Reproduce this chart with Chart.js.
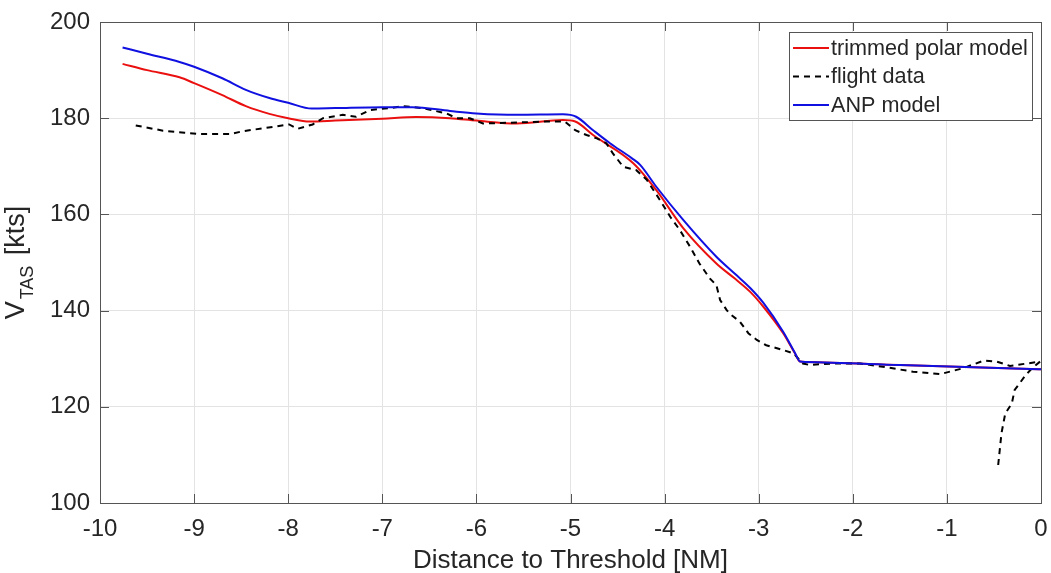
<!DOCTYPE html>
<html>
<head>
<meta charset="utf-8">
<title>V_TAS vs distance to threshold</title>
<script src="https://cdn.jsdelivr.net/npm/chart.js@4/dist/chart.umd.min.js"></script>
<style>
  html, body { margin: 0; padding: 0; background: #fff; }
  #wrap { position: relative; width: 1051px; height: 573px; }
</style>
</head>
<body>
<div id="wrap"><canvas id="speedChart"></canvas></div>
<script>
// Values
const xTicks = [-10, -9, -8, -7, -6, -5, -4, -3, -2, -1, 0];
const yTicks = [100, 120, 140, 160, 180, 200];

const seriesNames = ["trimmed polar model", "flight data", "ANP model"];

// trimmed polar model (red)
const polarDist = [-9.76, -9.5, -9.155, -9, -8.7, -8.45, -8.2, -8, -7.77, -7.5, -7, -6.64, -6.28, -6, -5.57, -5.08, -4.95, -4.76, -4.33, -4.09, -3.8, -3.45, -3.25, -3.09, -2.95, -2.74, -2.62, -2.56, -2.5, -1.5, 0];
const polarSpeed = [191.3, 190.0, 188.5, 187.3, 184.8, 182.5, 180.9, 180.0, 179.3, 179.5, 179.9, 180.25, 180.0, 179.5, 178.9, 179.6, 179.3, 176.5, 170.6, 165.1, 157.1, 149.8, 146.6, 143.9, 140.8, 135.3, 131.3, 129.4, 129.3, 128.7, 127.8];

// flight data (black dashed) - recorded order, the last points run back from the threshold
const flightDist = [-9.62, -9.33, -9.1, -8.94, -8.62, -8.48, -8.23, -7.99, -7.9, -7.74, -7.63, -7.42, -7.28, -7.13, -6.92, -6.78, -6.57, -6.32, -6.21, -6.07, -5.93, -5.57, -5.29, -5.06, -4.95, -4.83, -4.72, -4.62, -4.55, -4.44, -4.3, -4.19, -4.05, -3.94, -3.84, -3.73, -3.63, -3.52, -3.45, -3.41, -3.34, -3.31, -3.2, -3.11, -3.02, -2.92, -2.74, -2.63, -2.53, -2.46, -2.21, -1.92, -1.64, -1.36, -1.07, -0.83, -0.61, -0.47, -0.33, -0.15, -0.01, -0.06, -0.12, -0.17, -0.28, -0.31, -0.38, -0.42, -0.455];
const flightSpeed = [178.5, 177.4, 177.0, 176.7, 176.7, 177.3, 178.0, 178.7, 177.8, 178.7, 180.0, 180.7, 180.3, 181.7, 182.1, 182.5, 182.1, 181.0, 180.0, 180.0, 178.9, 179.1, 179.3, 179.3, 177.5, 176.5, 175.8, 174.8, 172.7, 169.9, 169.2, 167.2, 163.0, 159.5, 156.8, 153.3, 149.8, 146.7, 145.3, 142.2, 140.1, 139.4, 137.7, 135.3, 133.9, 132.8, 131.8, 131.1, 129.0, 128.7, 129.0, 129.0, 128.2, 127.3, 126.8, 128.0, 129.6, 129.4, 128.5, 129.0, 129.4, 128.6, 127.5, 126.4, 123.5, 120.7, 118.6, 114.5, 107.9];

// ANP model (blue)
const anpDist = [-9.76, -9.5, -9.155, -9, -8.7, -8.45, -8.2, -8, -7.75, -7.5, -7, -6.68, -6.28, -6, -5.57, -5.08, -4.94, -4.76, -4.58, -4.35, -4.26, -4.09, -3.8, -3.45, -3.25, -3.09, -2.95, -2.74, -2.62, -2.56, -2.5, -1.5, 0];
const anpSpeed = [194.7, 193.4, 191.7, 190.7, 188.3, 185.9, 184.2, 183.2, 182.0, 182.1, 182.3, 182.3, 181.5, 181.0, 180.7, 180.8, 180.3, 177.5, 174.8, 171.7, 170.3, 165.8, 158.8, 151.2, 147.6, 144.7, 141.6, 135.6, 131.4, 129.4, 129.3, 128.7, 127.8];

const FONT = "'Liberation Sans', Arial, Helvetica, sans-serif";
const TEXT = "#262626";

const toPoints = (xs, ys) => xs.map((x, i) => ({ x, y: ys[i] }));

// frame + inward tick marks on all four sides (MATLAB "box on")
const boxPlugin = {
  id: "boxPlugin",
  afterDatasetsDraw(chart) {
    const { ctx, chartArea: a, scales } = chart;
    const len = 9;
    ctx.save();
    ctx.strokeStyle = "#555";
    ctx.lineWidth = 1;
    ctx.beginPath();
    xTicks.forEach(v => {
      const px = Math.round(scales.x.getPixelForValue(v)) + 0.5;
      ctx.moveTo(px, a.bottom); ctx.lineTo(px, a.bottom - len);
      ctx.moveTo(px, a.top); ctx.lineTo(px, a.top + len);
    });
    yTicks.forEach(v => {
      const py = Math.round(scales.y.getPixelForValue(v)) + 0.5;
      ctx.moveTo(a.left, py); ctx.lineTo(a.left + len, py);
      ctx.moveTo(a.right, py); ctx.lineTo(a.right - len, py);
    });
    ctx.stroke();
    ctx.strokeRect(Math.round(a.left) + 0.5, Math.round(a.top) + 0.5,
      Math.round(a.right - a.left), Math.round(a.bottom - a.top));
    ctx.restore();
  }
};

// legend box in the upper right corner of the axes
const legendPlugin = {
  id: "legendPlugin",
  afterDraw(chart) {
    const { ctx, chartArea: a } = chart;
    const w = 243, h = 88;
    const x0 = a.right - 9 - w, y0 = a.top + 10;
    ctx.save();
    ctx.fillStyle = "#fff";
    ctx.fillRect(x0, y0, w, h);
    ctx.strokeStyle = "#555";
    ctx.lineWidth = 1;
    ctx.strokeRect(Math.round(x0) + 0.5, Math.round(y0) + 0.5, w, h);
    ctx.font = `21.6px ${FONT}`;
    ctx.textBaseline = "middle";
    ctx.fillStyle = TEXT;
    seriesNames.forEach((name, row) => {
      const ds = chart.data.datasets.find(d => d.label === name);
      const cy = y0 + 16 + row * 28.5;
      ctx.strokeStyle = ds.borderColor;
      ctx.lineWidth = ds.borderWidth;
      ctx.setLineDash(ds.borderDash || []);
      ctx.beginPath();
      ctx.moveTo(x0 + 4, cy);
      ctx.lineTo(x0 + 40, cy);
      ctx.stroke();
      ctx.setLineDash([]);
      ctx.fillText(ds.label, x0 + 42, cy + 1);
    });
    ctx.restore();
  }
};

// y axis title with subscript: V_TAS [kts]
const yTitlePlugin = {
  id: "yTitlePlugin",
  afterDraw(chart) {
    const { ctx, chartArea: a } = chart;
    const big = `27px ${FONT}`, small = `18px ${FONT}`;
    ctx.save();
    ctx.font = big;
    const wV = ctx.measureText("V").width + 2;
    const wRest = ctx.measureText(" [kts]").width;
    ctx.font = small;
    const wSub = ctx.measureText("TAS").width + 3;
    const total = wV + wSub + wRest;
    ctx.translate(24, (a.top + a.bottom) / 2);
    ctx.rotate(-Math.PI / 2);
    ctx.fillStyle = TEXT;
    ctx.textBaseline = "alphabetic";
    let x = -total / 2;
    ctx.font = big;
    ctx.fillText("V", x, 0);
    x += wV;
    ctx.font = small;
    ctx.fillText("TAS", x, 9);
    x += wSub;
    ctx.font = big;
    ctx.fillText(" [kts]", x, 0);
    ctx.restore();
  }
};

const ctx = document.getElementById("speedChart").getContext("2d");
new Chart(ctx, {
  type: "line",
  data: {
    datasets: [
      {
        label: seriesNames[0],
        data: toPoints(polarDist, polarSpeed),
        borderColor: "rgb(235,16,16)",
        borderWidth: 2,
        pointRadius: 0,
        cubicInterpolationMode: "monotone",
        order: 3
      },
      {
        label: seriesNames[1],
        data: toPoints(flightDist, flightSpeed),
        borderColor: "#000",
        borderWidth: 2,
        borderDash: [6, 5],
        pointRadius: 0,
        tension: 0,
        order: 2
      },
      {
        label: seriesNames[2],
        data: toPoints(anpDist, anpSpeed),
        borderColor: "rgb(16,16,225)",
        borderWidth: 2,
        pointRadius: 0,
        cubicInterpolationMode: "monotone",
        order: 1
      }
    ]
  },
  options: {
    responsive: true,
    maintainAspectRatio: false,
    animation: false,
    layout: { padding: { left: 0, right: 10, top: 22, bottom: 0 } },
    scales: {
      x: {
        type: "linear",
        min: -10,
        max: 0,
        afterBuildTicks: s => { s.ticks = xTicks.map(v => ({ value: v })); },
        afterFit: s => { s.height = 70; s.paddingLeft = 0; s.paddingRight = 0; },
        ticks: { font: { family: FONT, size: 24 }, color: TEXT, padding: 12 },
        grid: { color: "#e3e3e3", drawTicks: false },
        border: { display: false },
        title: {
          display: true,
          text: "Distance to Threshold [NM]",
          font: { family: FONT, size: 26 },
          color: TEXT,
          padding: { top: 0, bottom: -3 }
        }
      },
      y: {
        min: 100,
        max: 200,
        afterBuildTicks: s => { s.ticks = yTicks.map(v => ({ value: v })); },
        afterFit: s => { s.width = 100; s.paddingTop = 0; s.paddingBottom = 0; },
        ticks: { font: { family: FONT, size: 24 }, color: TEXT, padding: 10 },
        grid: { color: "#e3e3e3", drawTicks: false },
        border: { display: false }
      }
    },
    plugins: {
      legend: { display: false },
      tooltip: { enabled: false }
    }
  },
  plugins: [boxPlugin, legendPlugin, yTitlePlugin]
});
</script>
</body>
</html>
